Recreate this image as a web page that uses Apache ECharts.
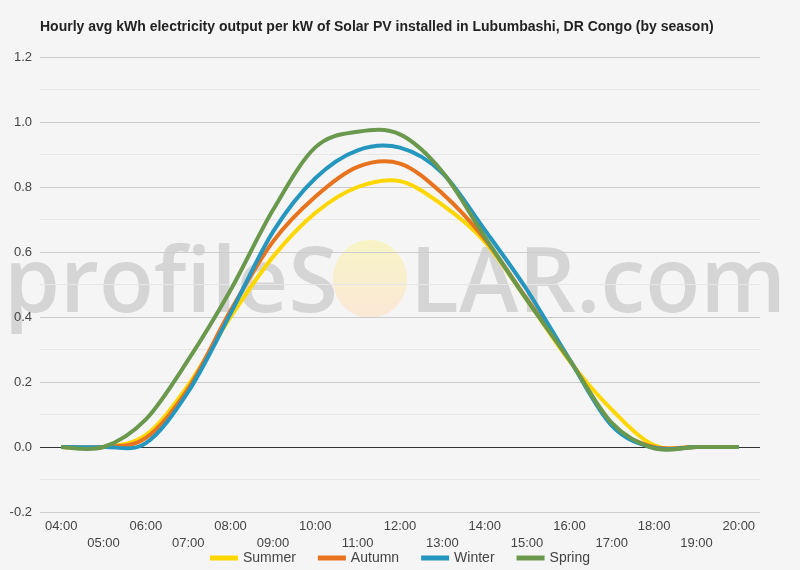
<!DOCTYPE html>
<html lang="en">
<head>
    <meta charset="UTF-8">
    <title>Lubumbashi solar PV output by season</title>
    <style>
        html, body { margin: 0; padding: 0; background: #f5f5f5; }
        .container { width: 800px; height: 570px; }
    </style>
    <script src="https://cdn.jsdelivr.net/npm/echarts@6/dist/echarts.min.js"></script>
</head>
<body>
    <div class="container"></div>
    <script>
        // hourly values (kWh per kW installed)
        var hours = ['04:00', '05:00', '06:00', '07:00', '08:00', '09:00', '10:00', '11:00', '12:00',
                     '13:00', '14:00', '15:00', '16:00', '17:00', '18:00', '19:00', '20:00'];
        var summer = [0, 0, 0.037, 0.19, 0.40, 0.585, 0.72, 0.80, 0.818, 0.745, 0.632, 0.452, 0.265, 0.115, 0.005, 0, 0];
        var autumn = [0, 0, 0.028, 0.18, 0.42, 0.632, 0.77, 0.862, 0.872, 0.78, 0.64, 0.455, 0.27, 0.07, 0, 0, 0];
        var winter = [0, 0, 0.012, 0.17, 0.411, 0.662, 0.827, 0.913, 0.921, 0.843, 0.668, 0.483, 0.27, 0.066, -0.003, 0, 0];
        var spring = [0, 0, 0.085, 0.268, 0.483, 0.729, 0.922, 0.97, 0.962, 0.847, 0.647, 0.452, 0.268, 0.074, -0.004, 0, 0];

        var seasons = ['Summer', 'Autumn', 'Winter', 'Spring'];
        var colors = ['#ffd700', '#e8731e', '#2596be', '#6a994e'];
        var values = [summer, autumn, winter, spring];

        var font = '"Liberation Sans", Arial, sans-serif';
        var markFont = '600 90px "Open Sans", sans-serif';

        // the original uses a catmull-rom style curve through the hourly points,
        // so build the bezier path from the points the axes give us
        function splineRenderer(vals, color) {
            return function (params, api) {
                if (params.dataIndex !== 0) return null;
                var pts = vals.map(function (v, i) { return api.coord([i, v]); });
                var n = pts.length;
                var d = 'M' + pts[0][0] + ' ' + pts[0][1];
                for (var i = 0; i < n - 1; i++) {
                    var p0 = pts[Math.max(i - 1, 0)];
                    var p1 = pts[i];
                    var p2 = pts[i + 1];
                    var p3 = pts[Math.min(i + 2, n - 1)];
                    var c1x = p1[0] + (p2[0] - p0[0]) / 6;
                    var c1y = p1[1] + (p2[1] - p0[1]) / 6;
                    var c2x = p2[0] - (p3[0] - p1[0]) / 6;
                    var c2y = p2[1] - (p3[1] - p1[1]) / 6;
                    d += ' C' + c1x + ' ' + c1y + ' ' + c2x + ' ' + c2y + ' ' + p2[0] + ' ' + p2[1];
                }
                return {
                    type: 'path',
                    shape: { pathData: d },
                    style: { fill: null, stroke: color, lineWidth: 4, lineJoin: 'round' }
                };
            };
        }

        const main = document.getElementsByClassName('container')[0];
        const myChart = echarts.init(main);

        myChart.setOption({
            backgroundColor: '#f5f5f5',
            animation: false,
            title: {
                text: 'Hourly avg kWh electricity output per kW of Solar PV installed in Lubumbashi, DR Congo (by season)',
                left: 40,
                top: 20,
                padding: 0,
                textStyle: { fontFamily: font, fontSize: 14, fontWeight: 'bold', color: '#222' }
            },
            // watermark behind the lines
            graphic: [
                {
                    type: 'ellipse',
                    shape: { cx: 370, cy: 279, rx: 37, ry: 39 },
                    style: {
                        fill: new echarts.graphic.LinearGradient(0, 0, 0, 1, [
                            { offset: 0, color: 'rgba(248,244,192,0.9)' },
                            { offset: 1, color: 'rgba(251,230,212,0.9)' }
                        ])
                    },
                    z: 0
                },
                {
                    type: 'text',
                    left: 4, top: 241,
                    style: { text: 'profileS', font: markFont, fill: 'rgba(160,160,160,0.38)' },
                    z: 0
                },
                {
                    type: 'text',
                    left: 410, top: 241,
                    style: { text: 'LAR.com', font: markFont, fill: 'rgba(160,160,160,0.38)' },
                    z: 0
                }
            ],
            legend: {
                bottom: 0,
                left: 'center',
                itemWidth: 28,
                itemHeight: 5,
                itemGap: 22,
                icon: 'rect',
                textStyle: { fontFamily: font, fontSize: 14, color: '#444' },
                data: seasons
            },
            grid: { left: 40, right: 40, top: 57, bottom: 58 },
            xAxis: {
                type: 'category',
                data: hours,
                boundaryGap: true,
                axisLine: { show: false, onZero: false },
                axisTick: { show: false },
                axisLabel: {
                    interval: 0,
                    margin: 6,
                    fontFamily: font,
                    fontSize: 13,
                    lineHeight: 17,
                    color: '#444',
                    formatter: function (v, i) {
                        return i % 2 === 0 ? v : '\n' + v;
                    }
                }
            },
            yAxis: {
                type: 'value',
                min: -0.2,
                max: 1.2,
                interval: 0.2,
                axisLine: { show: false },
                axisTick: { show: false },
                axisLabel: {
                    margin: 8,
                    fontFamily: font,
                    fontSize: 13,
                    color: '#444',
                    formatter: function (v) { return v.toFixed(1); }
                },
                splitLine: {
                    lineStyle: {
                        // -0.2, 0.0 (dark base line), 0.2 ... 1.2
                        color: ['#cccccc', '#333333', '#cccccc', '#cccccc', '#cccccc', '#cccccc', '#cccccc', '#cccccc'],
                        width: 1
                    }
                },
                minorTick: { show: false, splitNumber: 2 },
                minorSplitLine: { show: true, lineStyle: { color: '#e6e6e6' } }
            },
            series: seasons.map(function (name, i) {
                return {
                    name: name,
                    type: 'custom',
                    data: values[i].map(function (v, k) { return [k, v]; }),
                    encode: { x: 0, y: 1 },
                    renderItem: splineRenderer(values[i], colors[i]),
                    itemStyle: { color: colors[i] },
                    z: 3 + i
                };
            })
        });
    </script>
</body>
</html>
